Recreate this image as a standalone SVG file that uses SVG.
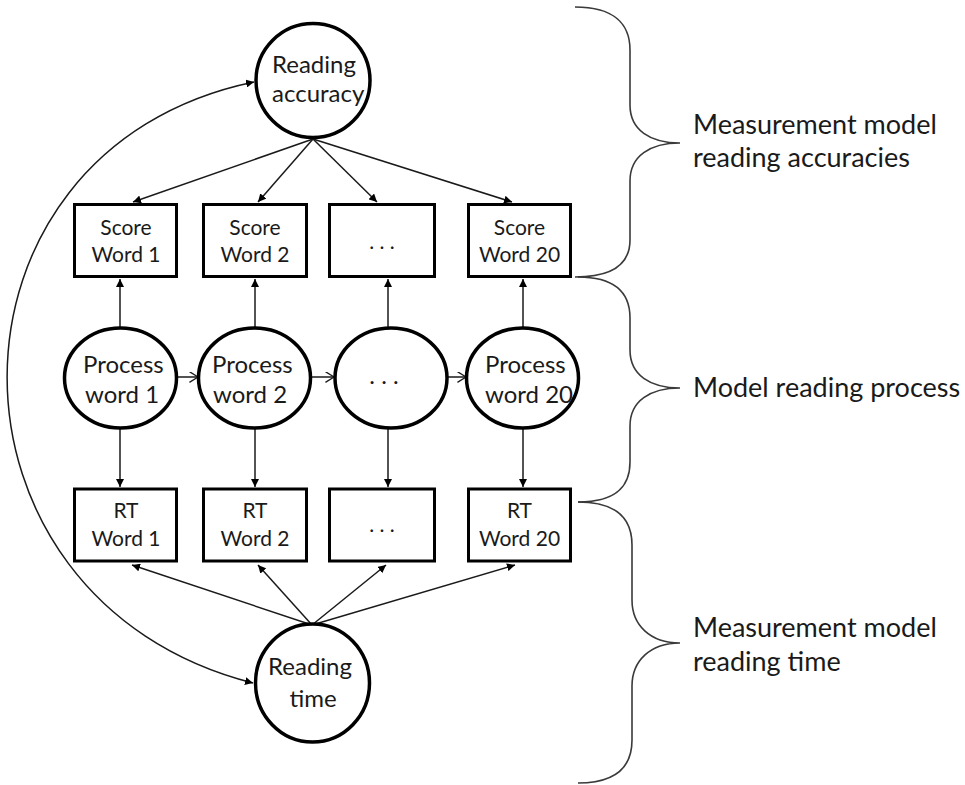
<svg xmlns="http://www.w3.org/2000/svg" width="965" height="785" viewBox="0 0 965 785">
<style>
.node{fill:#fff;stroke:#000;stroke-width:3.5}
.box{fill:#fff;stroke:#000;stroke-width:3}
.edge{fill:none;stroke:#1a1a1a;stroke-width:1.5}
.brace{fill:none;stroke:#3a3a3a;stroke-width:1.6}
text{font-family:Lato,"Open Sans","Liberation Sans",sans-serif;fill:#1a1a1a}
.t1{font-size:24px}
.t2{font-size:21px;text-anchor:middle}
.t3{font-size:27px}
.mid{text-anchor:middle}
</style>
<defs>
<marker id="ah" viewBox="0 0 10 10" refX="10" refY="5" markerWidth="8" markerHeight="8" markerUnits="userSpaceOnUse" orient="auto-start-reverse">
<path d="M0,0 L10,5 L0,10 z" fill="#000"/>
</marker>
<marker id="oh" viewBox="0 0 10 12" refX="9.5" refY="6" markerWidth="9" markerHeight="11" markerUnits="userSpaceOnUse" orient="auto">
<path d="M0,0 L9.5,6 L0,12" fill="none" stroke="#1a1a1a" stroke-width="1.4"/>
</marker>
</defs>
<g id="connectors">
<path class="edge" d="M254,82 C-75,150 -75,600 253,683" marker-start="url(#ah)" marker-end="url(#ah)"/>
<line class="edge" x1="313" y1="139" x2="133" y2="202" marker-end="url(#ah)"/>
<line class="edge" x1="313" y1="139" x2="258" y2="202" marker-end="url(#ah)"/>
<line class="edge" x1="313" y1="139" x2="377" y2="202" marker-end="url(#ah)"/>
<line class="edge" x1="313" y1="139" x2="512" y2="202" marker-end="url(#ah)"/>
<line class="edge" x1="120" y1="328" x2="120" y2="279" marker-end="url(#ah)"/>
<line class="edge" x1="255" y1="328" x2="255" y2="279" marker-end="url(#ah)"/>
<line class="edge" x1="388" y1="328" x2="388" y2="279" marker-end="url(#ah)"/>
<line class="edge" x1="523" y1="328" x2="523" y2="279" marker-end="url(#ah)"/>
<line class="edge" x1="120" y1="428" x2="120" y2="487" marker-end="url(#ah)"/>
<line class="edge" x1="255" y1="428" x2="255" y2="487" marker-end="url(#ah)"/>
<line class="edge" x1="388" y1="428" x2="388" y2="487" marker-end="url(#ah)"/>
<line class="edge" x1="523" y1="428" x2="523" y2="487" marker-end="url(#ah)"/>
<line class="edge" x1="178" y1="377" x2="198" y2="377" marker-end="url(#oh)"/>
<line class="edge" x1="312" y1="377" x2="334" y2="377" marker-end="url(#oh)"/>
<line class="edge" x1="448" y1="377" x2="466" y2="377" marker-end="url(#oh)"/>
<line class="edge" x1="312" y1="625" x2="132" y2="565" marker-end="url(#ah)"/>
<line class="edge" x1="312" y1="625" x2="258" y2="565" marker-end="url(#ah)"/>
<line class="edge" x1="312" y1="625" x2="386" y2="565" marker-end="url(#ah)"/>
<line class="edge" x1="312" y1="625" x2="515" y2="565" marker-end="url(#ah)"/>
</g>
<g id="reading-accuracy">
<circle class="node" cx="313" cy="80.5" r="57"/>
<text class="t1" x="272" y="73">Reading</text>
<text class="t1" x="272" y="102">accuracy</text>
</g>
<g id="score-word-1">
<rect class="box" x="74.5" y="204.5" width="102" height="72"/>
<text class="t2" x="126" y="235">Score</text>
<text class="t2" x="126" y="262">Word 1</text>
</g>
<g id="score-word-2">
<rect class="box" x="203.5" y="204.5" width="103" height="72"/>
<text class="t2" x="255" y="235">Score</text>
<text class="t2" x="255" y="262">Word 2</text>
</g>
<g id="score-word-dots">
<rect class="box" x="329.5" y="204.5" width="105" height="72"/>
<text class="t2" x="382" y="249">. . .</text>
</g>
<g id="score-word-20">
<rect class="box" x="468.5" y="204.5" width="102" height="72"/>
<text class="t2" x="519.5" y="235">Score</text>
<text class="t2" x="519.5" y="262">Word 20</text>
</g>
<g id="process-word-1">
<ellipse class="node" cx="120.5" cy="378" rx="56" ry="50"/>
<text class="t1" x="83" y="373">Process</text>
<text class="t1" x="85" y="403">word 1</text>
</g>
<g id="process-word-2">
<ellipse class="node" cx="254.5" cy="378" rx="56" ry="50"/>
<text class="t1" x="212" y="373">Process</text>
<text class="t1" x="213" y="403">word 2</text>
</g>
<g id="process-word-dots">
<ellipse class="node" cx="391" cy="378" rx="56" ry="50"/>
<text class="t1 mid" x="384" y="384">. . .</text>
</g>
<g id="process-word-20">
<ellipse class="node" cx="522.5" cy="378" rx="56" ry="50"/>
<text class="t1" x="485" y="373">Process</text>
<text class="t1" x="485" y="403">word 20</text>
</g>
<g id="rt-word-1">
<rect class="box" x="74.5" y="489" width="102" height="72"/>
<text class="t2" x="126" y="518">RT</text>
<text class="t2" x="126" y="546">Word 1</text>
</g>
<g id="rt-word-2">
<rect class="box" x="203.5" y="489" width="103" height="72"/>
<text class="t2" x="255" y="518">RT</text>
<text class="t2" x="255" y="546">Word 2</text>
</g>
<g id="rt-word-dots">
<rect class="box" x="329.5" y="489" width="105" height="72"/>
<text class="t2" x="382" y="532">. . .</text>
</g>
<g id="rt-word-20">
<rect class="box" x="468.5" y="489" width="102" height="72"/>
<text class="t2" x="519.5" y="518">RT</text>
<text class="t2" x="519.5" y="546">Word 20</text>
</g>
<g id="reading-time">
<ellipse class="node" cx="312.5" cy="683" rx="57" ry="59"/>
<text class="t1 mid" x="310" y="675">Reading</text>
<text class="t1 mid" x="313" y="707">time</text>
</g>
<g id="brace-accuracies">
<path class="brace" d="M575,7 C615,7 630,25 630,50 L630,105 C630,130 650,143 680,143 C650,143 630,156 630,181 L630,240 C630,262 615,277 575,277"/>
<text class="t3" x="693" y="134">Measurement model</text>
<text class="t3" x="693" y="167">reading accuracies</text>
</g>
<g id="brace-process">
<path class="brace" d="M578,277 C618,277 630,295 630,318 L630,350 C630,375 650,388 680,388 C650,388 630,401 630,426 L630,462 C630,485 618,502 578,502"/>
<text class="t3" x="693" y="397">Model reading process</text>
</g>
<g id="brace-time">
<path class="brace" d="M578,502 C618,502 632,520 632,545 L632,600 C632,625 650,643 680,643 C650,643 632,661 632,686 L632,740 C632,765 618,783 578,783"/>
<text class="t3" x="693" y="637">Measurement model</text>
<text class="t3" x="693" y="671">reading time</text>
</g>
</svg>
